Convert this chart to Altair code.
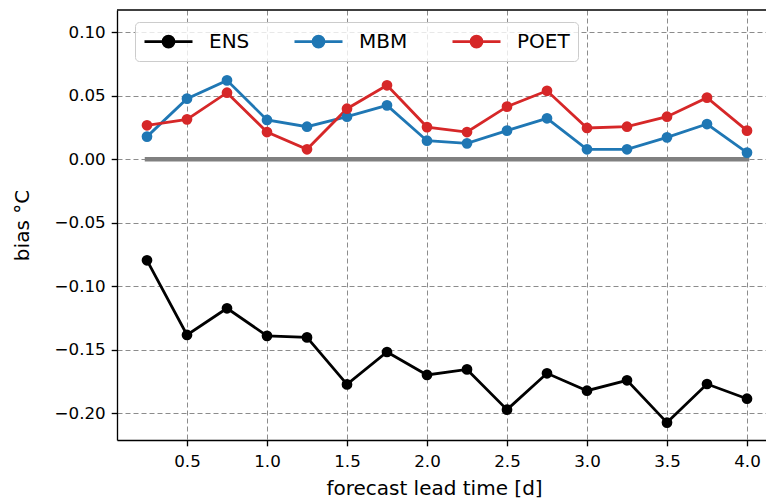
import altair as alt
import pandas as pd

lead = [0.25, 0.5, 0.75, 1.0, 1.25, 1.5, 1.75, 2.0, 2.25, 2.5, 2.75, 3.0, 3.25, 3.5, 3.75, 4.0]
ens = [-0.0795, -0.1383, -0.1173, -0.1390, -0.1402, -0.1772, -0.1517, -0.1698,
       -0.1654, -0.1971, -0.1685, -0.1822, -0.1740, -0.2073, -0.1769, -0.1885]
mbm = [0.0179, 0.0478, 0.0622, 0.0310, 0.0257, 0.0336, 0.0425, 0.0147,
       0.0126, 0.0226, 0.0323, 0.0079, 0.0079, 0.0173, 0.0278, 0.0053]
poet = [0.0268, 0.0315, 0.0525, 0.0215, 0.0079, 0.0399, 0.0583, 0.0254,
        0.0215, 0.0415, 0.0540, 0.0247, 0.0257, 0.0336, 0.0486, 0.0226]
series_names = ["ENS", "MBM", "POET"]
series_colors = ["#000000", "#1f77b4", "#d62728"]
zero_x = [0.25, 4.0]
zero_y = [0.0, 0.0]
x_ticks = [0.5, 1.0, 1.5, 2.0, 2.5, 3.0, 3.5, 4.0]
y_ticks = [-0.20, -0.15, -0.10, -0.05, 0.0, 0.05, 0.10]

rows = []
for name, vals in zip(series_names, [ens, mbm, poet]):
    for x, v in zip(lead, vals):
        rows.append({"lead": x, "bias": v, "series": name})
df = pd.DataFrame(rows)
zero_df = pd.DataFrame({"lead": zero_x, "bias": zero_y})

W, H = 649, 430
FONT = "DejaVu Sans"

xscale = alt.Scale(domain=[0.0625, 0.0625 + W / 160.0], nice=False, zero=False)
yscale = alt.Scale(domain=[-0.221, 0.1176], nice=False, zero=False)

xaxis = alt.Axis(values=x_ticks, format=".1f", title="forecast lead time [d]",
                 titleX=317, titlePadding=8, labelPadding=8,
                 labelOverlap=False, labelFlush=False)
yaxis = alt.Axis(values=y_ticks, format=".2f", title="bias °C",
                 titlePadding=22, labelPadding=6, labelOverlap=False, labelFlush=False)

sym_path = "M-2.4,0L2.4,0M-0.55,0A0.55,0.55,0,1,0,0.55,0A0.55,0.55,0,1,0,-0.55,0Z"
color = alt.Color("series:N",
                  scale=alt.Scale(domain=series_names, range=series_colors),
                  legend=alt.Legend(title=None, orient="none", legendX=18, legendY=12,
                                    direction="horizontal", symbolType=sym_path,
                                    symbolSize=400, symbolStrokeWidth=2.8,
                                    symbolOffset=14, labelOffset=29, columnPadding=38,
                                    padding=8, cornerRadius=4, strokeColor="#cccccc",
                                    fillColor="rgba(255,255,255,0.8)",
                                    labelFontSize=20, labelFont=FONT, labelColor="#000000"))

zero_line = alt.Chart(zero_df).mark_line(color="#808080", strokeWidth=4.5, strokeCap="square").encode(
    x=alt.X("lead:Q", scale=xscale, axis=xaxis),
    y=alt.Y("bias:Q", scale=yscale, axis=yaxis),
)

lines = alt.Chart(df).mark_line(strokeWidth=2.8).encode(
    x=alt.X("lead:Q", scale=xscale, axis=xaxis),
    y=alt.Y("bias:Q", scale=yscale, axis=yaxis),
    color=color,
    detail="series:N",
)
points = alt.Chart(df).mark_point(filled=True, size=115, opacity=1, shape="circle").encode(
    x=alt.X("lead:Q", scale=xscale, axis=xaxis),
    y=alt.Y("bias:Q", scale=yscale, axis=yaxis),
    color=color,
)

top_border = alt.Chart(pd.DataFrame({"a": [0]})).mark_rule(color="#000000", strokeWidth=1.33).encode(
    x=alt.value(0), x2=alt.value(W), y=alt.value(0)
)

chart = alt.layer(zero_line, lines, points, top_border).properties(
    width=W, height=H,
    autosize=alt.AutoSizeParams(type="none"),
    padding={"left": 117, "top": 10, "right": 0, "bottom": 61},
).configure_view(stroke=None).configure_axis(
    grid=True, gridColor="#8c8c8c", gridDash=[5, 3], gridWidth=1,
    domainColor="#000000", domainWidth=1.33,
    tickColor="#000000", tickSize=5.8, tickWidth=1.33,
    labelFont=FONT, labelFontSize=16.7, labelColor="#000000",
    titleFont=FONT, titleFontSize=20, titleFontWeight="normal", titleColor="#000000",
)

chart.save("out.html", embed_options={"renderer": "svg", "actions": False})
